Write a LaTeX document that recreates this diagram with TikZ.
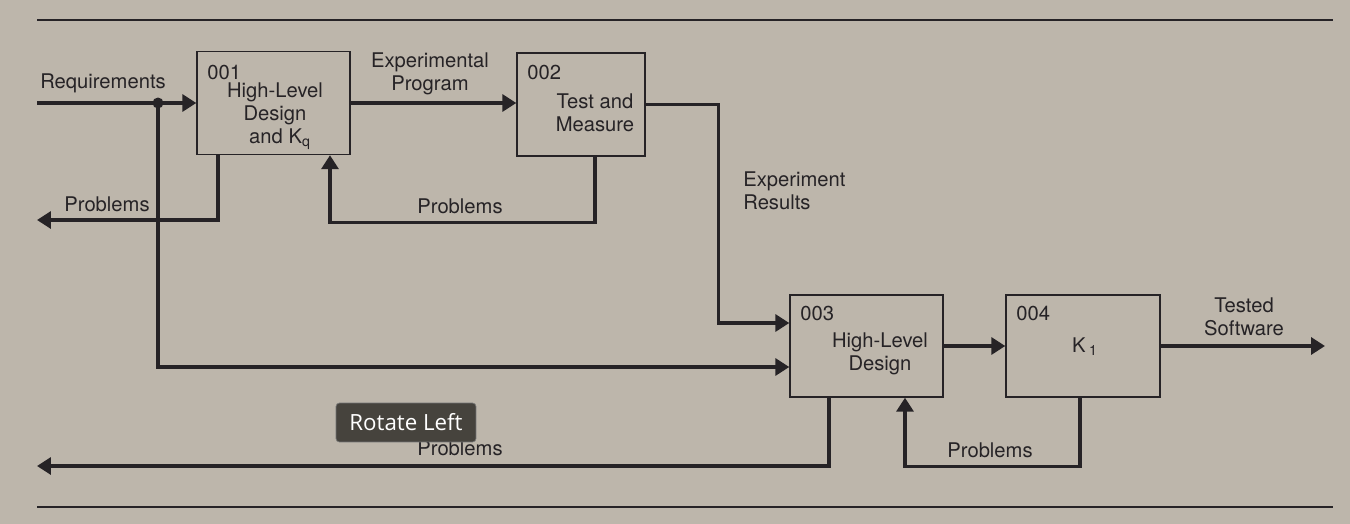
\documentclass[tikz,border=0pt]{standalone}
\usepackage{fontspec}
\setmainfont{TeX Gyre Heros}
\newfontfamily\uifont{Open Sans}
\usetikzlibrary{arrows.meta}
\definecolor{paper}{RGB}{189,182,171}
\definecolor{ink}{RGB}{38,35,38}
\definecolor{tipbg}{RGB}{70,67,61}
\begin{document}
\begin{tikzpicture}[x=0.02cm,y=-0.02cm,font=\fontsize{11.5}{13}\selectfont,
        flow/.style={ink,line width=1.9pt,-{Triangle[length=0.28cm,width=0.34cm]}},
        box/.style={draw=ink,line width=0.8pt,minimum width=3.06cm,minimum height=2.06cm,inner sep=0pt},
        num/.style={anchor=west,inner sep=0pt,text=ink},
        lbl/.style={align=center,inner sep=0pt,text=ink}]
            \fill[paper] (0,0) rectangle (1350,524);
            \useasboundingbox (0,0) rectangle (1350,524);
            \draw[ink,line width=0.7pt] (37,20) -- (1333,20);
            \draw[ink,line width=0.7pt] (37,507) -- (1333,507);
            % boxes
            \node[box] (b1) at (273.5,103) {};
            \node[box,minimum width=2.56cm] (b2) at (581,104.5) {};
            \node[box,minimum height=2.04cm] (b3) at (866.5,346) {};
            \node[box,minimum width=3.08cm,minimum height=2.04cm] (b4) at (1083,346) {};
            \node[num] (n1) at (207,72) {001};
            \node[num] (n2) at (527,72) {002};
            \node[num] (n3) at (800,313) {003};
            \node[num] (n4) at (1016,313) {004};
            \node[lbl] (t1) at (275,116) {High-Level\\Design\\\hspace{0.2cm}and K\textsubscript{q}};
            \node[lbl] (t2) at (595,113) {Test and\\Measure};
            \node[lbl] (t3) at (880,354) {High-Level\\Design};
            \node[lbl] (t4) at (1085,347) {K\,\textsubscript{1}};
            % free ends
            \coordinate (req) at (37,103);
            \coordinate (split) at (158,103);
            \coordinate (p1out) at (37,220);
            \coordinate (p3out) at (37,466);
            \coordinate (done) at (1325,346);
            % connectors
            \draw[flow] (req) -- (b1.west);
            \fill[ink] (split) circle (0.11cm);
            \draw[flow] (split) |- ([yshift=-0.42cm]b3.west);
            \draw[flow] (b1.east) -- (b1.east -| b2.west);
            \draw[flow] (b2.east) -- ++(73,0) |- ([yshift=0.46cm]b3.west);
            \draw[flow] ([xshift=-1.11cm]b1.south) |- (p1out);
            \draw[flow] ([xshift=0.28cm]b2.south) -- ++(0,66) -| ([xshift=1.13cm]b1.south);
            \draw[flow] (b3.east) -- (b4.west);
            \draw[flow] (b4.east) -- (done);
            \draw[flow] ([xshift=-0.75cm]b3.south) |- (p3out);
            \draw[flow] ([xshift=-0.06cm]b4.south) -- ++(0,69) -| ([xshift=0.77cm]b3.south);
            % labels
            \node[lbl] (l1) at (103,83) {Requirements};
            \node[lbl] (l2) at (430,74) {Experimental\\Program};
            \node[lbl] (l3) at (107,204) {Problems};
            \node[lbl] (l4) at (460,206) {Problems};
            \node[lbl,align=left,anchor=west] (l5) at (743,191) {Experiment\\Results};
            \node[lbl] (l6) at (1244,317) {Tested\\Software};
            \node[lbl] (l7) at (460,448) {Problems};
            \node[lbl] (l8) at (990,450) {Problems};
            \node[fill=tipbg,draw=black!55,rounded corners=2pt,text=white,font=\uifont\fontsize{12.7}{15}\selectfont,
                minimum width=2.8cm,minimum height=0.78cm,inner sep=0pt] (tip) at (406,422.5) {Rotate Left};
        \end{tikzpicture}
\end{document}
